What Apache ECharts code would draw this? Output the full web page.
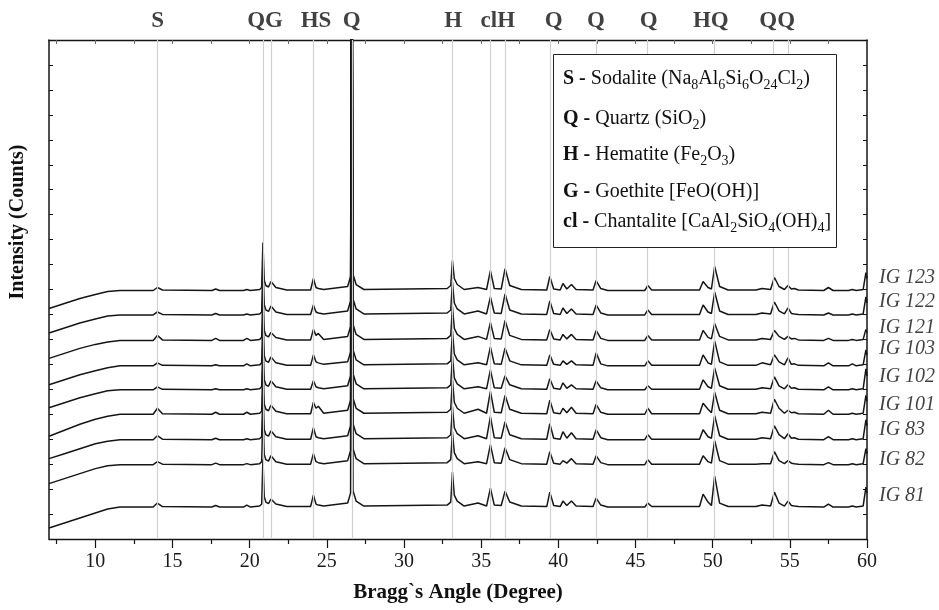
<!DOCTYPE html>
<html><head><meta charset="utf-8">
<script src="https://cdn.jsdelivr.net/npm/echarts@6/dist/echarts.min.js"></script>
<style>html,body{margin:0;padding:0;background:#fff}#c{width:939px;height:610px}</style>
</head><body><div id="c"></div>
<script>
// 2-theta positions (degrees) at which intensities were read
const twoTheta = [7.0, 8.0, 9.0, 10.0, 10.8, 11.6, 13.75, 14.02, 14.35, 17.55, 17.8, 18.05, 19.6, 19.82, 20.05, 20.65,
  20.78, 20.86, 20.95, 21.05, 21.22, 21.38, 21.7, 22.4, 23.95,
  24.13, 24.3, 24.45, 24.8, 26.35, 26.54, 26.62, 26.70, 26.9, 27.4,
  32.8, 33.03, 33.14, 33.26, 33.45, 33.9, 34.8, 35.35, 35.6, 35.85, 36.3, 36.55, 36.85, 37.6,
  39.25, 39.45, 39.7, 40.12, 40.3, 40.55, 40.85, 41.15, 42.25, 42.45, 42.75, 43.2,
  45.6, 45.8, 46.05, 49.15, 49.38, 49.7, 49.92, 50.13, 50.45, 51.0,
  52.8, 53.2, 53.75, 54.0, 54.3, 54.65, 54.88, 55.1, 55.3, 55.55,
  57.2, 57.5, 57.8, 58.8, 59.05, 59.3, 59.75, 59.93, 60.0];

// intensities (relative), one array per sample
const ig123 = [-18,-13,-8,-4,-1,0, 0,3,0.5,0,1.5,0,0,1,0,1, 3,48,10,5,3.5,9,3,0.5,0.5, 12,3,2,1,4,14,560,16,6,1,
  2,5,30,12,6,1,3,1,20,2,1.5,22,5,1, 0.5,14,1.5,0.5,7,1.5,6,1,0.5,10,2,0, 0,5,0.5,0.5,9,3,1.5,24,4,0.5,
  0.5,2,1,13,4,1,5,1.5,2,0.5, 0,3,0,0,1,0,1,18,12];
const ig122 = [-18,-13,-8,-4,-1,0, 0,3,0.5,0,1.5,0,0,1,0,1, 3,50,10,5,3.5,9,3,0.5,0.5, 10,3,2,1,4,14,555,16,6,1,
  2,5,33,12,6,1,4,1,18,2,1.5,21,5,1, 0.5,14,1.5,0.5,7,1.5,6,1,0.5,10,2,0, 0,5,0.5,0.5,10,3,1.5,23,4,0.5,
  0.5,2,1,13,4,1,7,1.5,1,0.5, 0,2,0,0,1,0,1,18,12];
const ig121 = [-18,-13,-8,-4,-1.5,0, 0,5,0.5,0,2,0,0,2,0,1, 3,50,10,5,3.5,8,3,0.5,0.5, 11,5,7,1,4,14,565,16,6,1,
  2,5,34,12,6,1,4,1,18,2,1.5,20,5,1, 0.5,11,1.5,0.5,6,1.5,6,1,0.5,10,2,0, 0,5,0.5,0.5,10,3,1.5,17,4,0.5,
  0.5,2,1,10,4,1,4,1.5,2,0.5, 0,2,0,0,1,0,1,11,8];
const ig103 = [-19,-14,-9,-5,-2,0, 0,3,0.5,0,1,0,0,2,0,1, 3,52,10,5,3.5,9,3,0.5,0.5, 11,4,3,1.5,4,14,560,16,6,1,
  2,5,35,12,6,1,3,1,19,2,1.5,18,5,1, 0.5,11,1.5,0.5,5,1.5,5,1,0.5,13,2,0, 0,5,0.5,0.5,11,3,1.5,25,4,0.5,
  0.5,3,1,11,4,1,8,1.5,2,0.5, 0,3,0,0,2,0,1,16,11];
const ig102 = [-18,-13,-8,-4,-1,0, 0,3,0.5,0,1,0,0,1,0,1, 3,50,10,5,3.5,9,3,0.5,0.5, 9,3,2,1,4,14,570,16,6,1,
  2,5,34,12,6,1,3,1,20,2,1.5,14,5,1, 0.5,11,1.5,0.5,7,1.5,5,1,0.5,9,2,0, 0,4,0.5,0.5,10,3,1.5,22,4,0.5,
  0.5,2,1,13,4,1,5,1.5,2,0.5, 0,3,0,0,1,0,1,21,14];
const ig101 = [-22,-16,-10,-5,-2,0, 0,6,0.5,0,2,0,0,2,0,1, 3,52,10,5,3.5,9,3,0.5,0.5, 12,6,8,1,4,14,560,16,6,1,
  2,5,35,12,6,1,5,1,23,2,1.5,19,5,1, 0.5,14,1.5,0.5,6,1.5,7,1,0.5,10,2,0, 0,6,0.5,0.5,11,5,1.5,22,4,0.5,
  0.5,2,1,15,6,1,4,1.5,2,0.5, 0,4,0,0,1,0,1,19,13];
const ig83 = [-19,-14,-9,-4,-1.5,0, 0,4,0.5,0,1.5,0,0,1,0,1, 3,50,10,5,3.5,9,3,0.5,0.5, 12,3,2,1,4,14,565,16,6,1,
  2,5,33,12,6,1,4,1,23,2,1.5,18,5,1, 0.5,16,1.5,0.5,8,1.5,7,1,0.5,10,2,0, 0,5,0.5,0.5,10,3,1.5,24,4,0.5,
  0.5,2,1,14,5,1,6,1.5,2,0.5, 0,3,0,0,1,0,1,20,14];
const ig82 = [-19,-14,-9,-4,-1,0, 0,3,0.5,0,1.5,0,0,1,0,1, 3,50,10,5,3.5,9,3,0.5,0.5, 11,3,2,1,4,14,560,16,6,1,
  2,5,33,12,6,1,3,1,20,2,1.5,17,5,1, 0.5,13,1.5,0.5,4,1.5,6,1,0.5,9,2,0, 0,5,0.5,0.5,9,3,1.5,24,4,0.5,
  0.5,1,1,13,4,1,4,1.5,1,0.5, 0,2,0,0,1,0,1,16,11];
const ig81 = [-21,-16,-11,-6,-2,0, 0,4,0.5,0,1.5,0,0,2,0,1, 3,48,10,5,3.5,8,3,0.5,0.5, 12,3,2,1,4,14,560,16,6,1,
  2,5,35,12,6,1,4,1,19,2,1.5,16,5,1, 0.5,15,1.5,0.5,6,1.5,6,1,0.5,9,2,0, 0,4,0.5,0.5,13,5,1.5,31,4,0.5,
  0.5,2,1,15,4,1,6,1.5,1,0.5, 0,3,0,0,1,0,1,20,14];

const sampleNames = ['IG 123','IG 122','IG 121','IG 103','IG 102','IG 101','IG 83','IG 82','IG 81'];
const sampleValues = [ig123, ig122, ig121, ig103, ig102, ig101, ig83, ig82, ig81];
// vertical stacking offset of each pattern
const stackOffsets = [249, 224.5, 199, 173.5, 149.5, 125, 99.5, 74.5, 32];

// reference peak positions (grey lines) and phase tags above the plot
const refLines = [14.04, 20.86, 21.38, 24.12, 26.62, 33.14, 35.6, 36.55, 39.45, 42.43, 45.75, 50.13, 53.91, 54.88];
const phaseTags = ['S','QG','HS','Q','H','clH','Q','Q','Q','HQ','QQ'];
const phaseTagAt = [14.04, 21.0, 24.3, 26.62, 33.19, 36.08, 39.7, 42.43, 45.86, 49.88, 54.18];

const xMajorTicks = [10,15,20,25,30,35,40,45,50,55,60];
const xMinorTicks = [7.5,12.5,17.5,22.5,27.5,32.5,37.5,42.5,47.5,52.5,57.5];
const xTopTicks = [7.5,10,12.5,15,17.5,20,22.5,25,27.5,30,32.5,35,37.5,40,42.5,45,47.5,50,52.5,55,57.5];

// layout-only: label lift of each sample name above its baseline
const labelLift = [13, 13, 13, 17, 13, 10, 10, 5, 11];

const FF = 'Liberation Serif';
const INK = '#151515';

const chart = echarts.init(document.getElementById('c'), null, {renderer: 'canvas'});

const traceSeries = sampleValues.map((vals, k) => ({
  type: 'line', name: sampleNames[k],
  data: twoTheta.map((x, i) => [x, stackOffsets[k] + vals[i]]),
  showSymbol: false, symbol: 'none', silent: true, z: 3,
  lineStyle: {color: INK, width: 1.5}
}));

const R = {
  b: {fontFamily: FF, fontSize: 20, fontWeight: 'bold', lineHeight: 26, verticalAlign: 'middle', fill: '#111'},
  n: {fontFamily: FF, fontSize: 20, lineHeight: 26, verticalAlign: 'middle', fill: '#111'},
  s: {fontFamily: FF, fontSize: 14, lineHeight: 14, verticalAlign: 'bottom', fill: '#111'}
};
function legendText(y, txt) {
  return {type: 'text', x: 563, y: y, z: 101, style: {text: txt, rich: R, verticalAlign: 'middle', align: 'left'}};
}

chart.setOption({
  animation: false,
  backgroundColor: '#fff',
  grid: {left: 49, right: 72, top: 40, bottom: 71},
  xAxis: [
    {type: 'value', min: 7, max: 60, position: 'bottom',
     axisLine: {show: true, lineStyle: {color: INK, width: 1.3}},
     axisTick: {show: true, inside: false, length: 9, customValues: xMajorTicks, lineStyle: {color: INK, width: 1.2}},
     axisLabel: {show: true, customValues: xMajorTicks, margin: 13, fontFamily: FF, fontSize: 20, color: '#1a1a1a'},
     splitLine: {show: false},
     name: 'Bragg`s Angle (Degree)', nameLocation: 'middle', nameGap: 43,
     nameTextStyle: {fontFamily: FF, fontSize: 21, fontWeight: 'bold', color: '#111'}},
    {type: 'value', min: 7, max: 60, position: 'bottom',
     axisLine: {show: false},
     axisTick: {show: true, inside: false, length: 5, customValues: xMinorTicks, lineStyle: {color: INK, width: 1.2}},
     axisLabel: {show: false}, splitLine: {show: false}},
    {type: 'value', min: 7, max: 60, position: 'top',
     axisLine: {show: true, lineStyle: {color: INK, width: 1.3}},
     axisTick: {show: true, inside: true, length: 4, customValues: xTopTicks, lineStyle: {color: '#666', width: 1}},
     axisLabel: {show: false}, splitLine: {show: false}}
  ],
  yAxis: [
    {type: 'value', min: 0, max: 500, interval: 25, position: 'left',
     axisLine: {show: true, lineStyle: {color: INK, width: 1.5}},
     axisTick: {show: true, inside: true, length: 4, lineStyle: {color: INK, width: 1}},
     axisLabel: {show: false}, splitLine: {show: false}},
    {type: 'value', min: 0, max: 500, interval: 25, position: 'right',
     axisLine: {show: true, lineStyle: {color: INK, width: 1.5}},
     axisTick: {show: true, inside: true, length: 4, lineStyle: {color: INK, width: 1}},
     axisLabel: {show: false}, splitLine: {show: false}}
  ],
  series: [
    {type: 'scatter', data: [[7, -100]], symbolSize: 0, silent: true, z: 1,
     markLine: {silent: true, symbol: ['none', 'none'], label: {show: false}, animation: false,
       lineStyle: {color: '#d0d0d0', width: 1.2, type: 'solid'},
       emphasis: {disabled: true},
       data: refLines.map(v => ({xAxis: v}))}},
    ...traceSeries,
    {type: 'scatter', clip: false, silent: true, symbolSize: 0, z: 5,
     data: phaseTagAt.map((x, i) => ({value: [x, 500], name: phaseTags[i]})),
     label: {show: true, position: 'top', distance: 7, formatter: '{b}',
       fontFamily: FF, fontSize: 23, fontWeight: 'bold', color: '#111'}},
    {type: 'scatter', clip: false, silent: true, symbolSize: 0, z: 5,
     data: sampleNames.map((n, k) => ({value: [60, stackOffsets[k] + labelLift[k]], name: n})),
     label: {show: true, position: 'right', distance: 12, formatter: '{b}',
       fontFamily: FF, fontSize: 20, fontStyle: 'italic', color: '#111'}}
  ],
  graphic: [
    {type: 'text', x: 18, y: 222, rotation: Math.PI / 2, z: 100,
     style: {text: 'Intensity (Counts)', fontFamily: FF, fontSize: 20, fontWeight: 'bold', fill: '#111',
       align: 'center', verticalAlign: 'middle'}},
    {type: 'rect', z: 100, shape: {x: 553.5, y: 54.5, width: 283, height: 193},
     style: {fill: '#fff', stroke: '#222', lineWidth: 1}},
    legendText(79, '{b|S -}{n| Sodalite (Na}{s|8}{n|Al}{s|6}{n|Si}{s|6}{n|O}{s|24}{n|Cl}{s|2}{n|)}'),
    legendText(119, '{b|Q -}{n| Quartz (SiO}{s|2}{n|)}'),
    legendText(155, '{b|H -}{n| Hematite (Fe}{s|2}{n|O}{s|3}{n|)}'),
    legendText(192, '{b|G -}{n| Goethite [FeO(OH)]}'),
    legendText(222, '{b|cl -}{n| Chantalite [CaAl}{s|2}{n|SiO}{s|4}{n|(OH)}{s|4}{n|]}')
  ]
});
</script></body></html>
